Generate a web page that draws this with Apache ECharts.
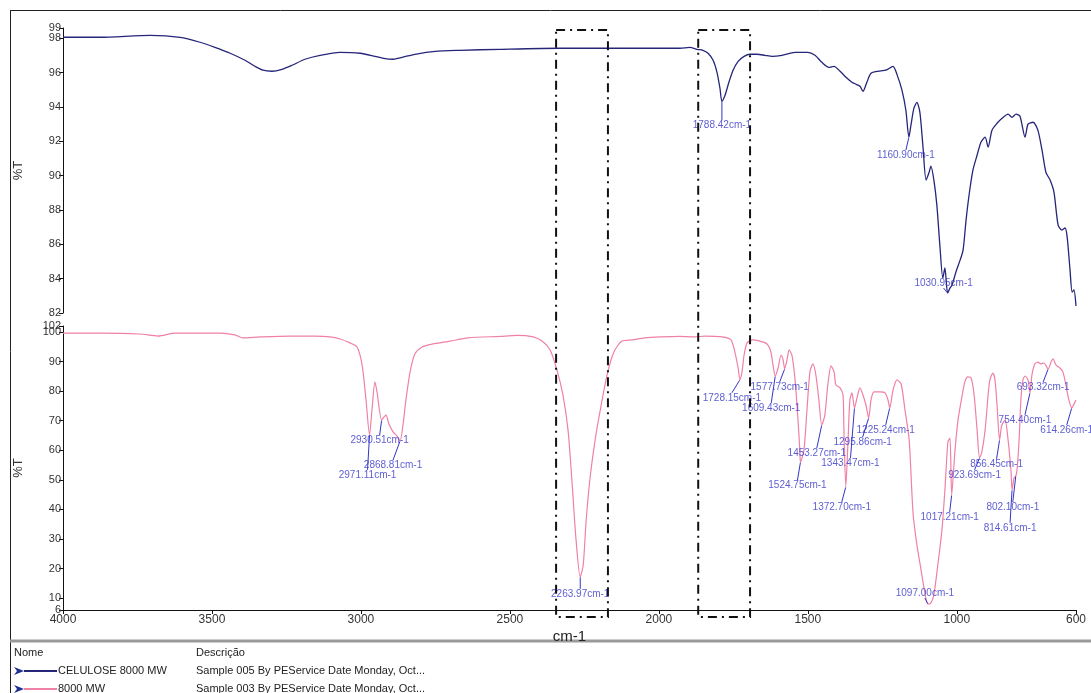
<!DOCTYPE html>
<html>
<head>
<meta charset="utf-8">
<title>FTIR – Celulose 8000 MW</title>
<script src="https://cdn.jsdelivr.net/npm/echarts@6/dist/echarts.min.js"></script>
<style>
  html, body { margin: 0; padding: 0; background: #ffffff; }
  #chart { width: 1091px; height: 693px; }
</style>
</head>
<body>
<div id="chart"></div>
<script>
// Wavenumber axis (cm-1), drawn high to low
const wavenumberTicks = [4000, 3500, 3000, 2500, 2000, 1500, 1000, 600];
const celluloseTicks = [82, 84, 86, 88, 90, 92, 94, 96, 98];
const celluloseTopTick = [98.6];
const pegTicks = [6, 10, 20, 30, 40, 50, 60, 70, 80, 90, 100];
const pegTopTick = [102];

// CELULOSE 8000 MW spectrum: [wavenumber, %T]
const celluloseSpectrum = [
  [4000, 98.06], [3876, 98.06], [3708, 98.17], [3607, 98.06], [3540, 97.77], [3490, 97.47],
  [3439, 97.13], [3389, 96.72], [3356, 96.37], [3329, 96.14], [3299, 96.08], [3265, 96.19],
  [3231, 96.43], [3188, 96.78], [3137, 97.01], [3070, 97.18], [3003, 97.13], [2953, 96.95],
  [2919, 96.81], [2892, 96.78], [2862, 96.89], [2819, 97.07], [2751, 97.24], [2667, 97.30],
  [2533, 97.36], [2332, 97.42], [2130, 97.42], [1929, 97.42], [1896, 97.47], [1872, 97.36],
  [1852, 97.30], [1835, 97.13], [1818, 96.72], [1805, 96.02], [1795, 95.09], [1788.42, 94.33],
  [1778, 94.68], [1765, 95.44], [1751, 96.14], [1734, 96.66], [1714, 96.95], [1694, 97.07],
  [1671, 97.07], [1644, 97.01], [1620, 96.95], [1587, 97.01], [1543, 97.18], [1500, 97.18],
  [1476, 97.01], [1453, 96.60], [1429, 96.31], [1412, 96.37], [1392, 96.08], [1372, 95.73],
  [1352, 95.44], [1338, 95.32], [1325, 95.21], [1315, 94.91], [1302, 95.44], [1288, 95.96],
  [1265, 96.08], [1238, 96.14], [1214, 96.37], [1201, 95.90], [1184, 94.97], [1171, 93.81],
  [1160.90, 92.24], [1154, 92.94], [1144, 93.93], [1134, 94.27], [1124, 93.69], [1114, 91.77],
  [1103, 89.74], [1093, 90.20], [1087, 90.55], [1077, 89.74], [1067, 88.28], [1057, 85.96],
  [1047, 84.04], [1040, 84.62], [1030.95, 83.16], [1023, 83.45], [1016, 83.63], [1003, 84.39],
  [989, 85.08], [979, 85.66], [969, 87.41], [959, 88.86], [946, 90.32], [932, 91.19],
  [919, 91.95], [905, 92.24], [895, 91.66], [882, 92.65], [865, 93.05], [848, 93.34],
  [828, 93.58], [815, 93.40], [801, 93.58], [788, 93.46], [771, 92.24], [761, 93.00],
  [744, 93.11], [728, 92.65], [714, 91.48], [701, 90.20], [687, 89.74], [674, 89.04],
  [660, 87.12], [647, 86.83], [637, 86.95], [630, 86.48], [620, 84.50], [613, 83.22],
  [607, 83.34], [600, 82.41]
];

// 8000 MW spectrum: [wavenumber, %T]
const pegSpectrum = [
  [4000, 99.6], [3876, 99.6], [3742, 99.3], [3681, 98.6], [3624, 99.6], [3473, 99.6],
  [3423, 99.0], [3396, 98.0], [3339, 98.3], [3238, 98.6], [3154, 98.6], [3104, 98.3],
  [3070, 97.6], [3037, 96.3], [3013, 94.9], [2996, 88.8], [2983, 77.0], [2971.11, 65.2],
  [2963, 73.6], [2953, 83.1], [2946, 79.7], [2930.51, 70.2], [2923, 71.2], [2916, 71.9],
  [2906, 68.9], [2892, 66.2], [2879, 64.8], [2868.81, 63.1], [2859, 68.5], [2849, 77.0],
  [2835, 86.5], [2819, 92.5], [2795, 94.9], [2761, 95.9], [2701, 96.9], [2641, 98.0],
  [2533, 98.5], [2476, 98.8], [2422, 98.3], [2392, 96.9], [2365, 93.9], [2342, 87.1],
  [2322, 78.7], [2305, 66.9], [2292, 49.9], [2278, 29.7], [2263.97, 17.2], [2254, 21.2],
  [2244, 36.4], [2231, 50.6], [2214, 63.5], [2198, 72.9], [2174, 85.4], [2151, 93.2],
  [2124, 96.9], [2090, 97.3], [2047, 98.0], [1996, 98.3], [1929, 98.5], [1879, 98.3],
  [1845, 98.6], [1788, 98.3], [1758, 97.3], [1745, 93.2], [1734, 87.8], [1728.15, 83.8],
  [1721, 86.5], [1714, 92.2], [1704, 96.3], [1687, 97.3], [1661, 96.9], [1637, 95.9],
  [1624, 93.2], [1617, 88.8], [1609.43, 85.1], [1600, 87.8], [1590, 92.2], [1583, 90.5],
  [1577.73, 87.5], [1570, 90.5], [1563, 93.9], [1553, 91.9], [1543, 83.8], [1533, 70.2],
  [1527, 60.1], [1524.75, 56.0], [1513, 60.1], [1503, 73.6], [1493, 86.5], [1483, 89.2],
  [1473, 85.4], [1463, 77.0], [1453.27, 68.5], [1443, 71.9], [1433, 82.1], [1422, 88.5],
  [1412, 86.5], [1406, 82.1], [1392, 81.1], [1382, 78.7], [1379, 66.9], [1372.70, 47.6],
  [1365, 63.5], [1359, 77.0], [1352, 79.4], [1343.47, 74.3], [1335, 77.7], [1325, 81.1],
  [1315, 78.7], [1305, 75.3], [1295.86, 70.9], [1288, 77.0], [1278, 79.7], [1258, 79.7],
  [1241, 79.4], [1231, 77.0], [1225.24, 74.3], [1214, 80.4], [1201, 83.8], [1187, 82.4],
  [1174, 73.6], [1160, 63.5], [1147, 38.8], [1134, 28.0], [1124, 21.9], [1107, 11.7],
  [1097.00, 8.0], [1087, 8.4], [1077, 11.1], [1063, 21.9], [1050, 33.0], [1040, 46.6],
  [1030, 62.8], [1023, 64.1], [1017.21, 44.9], [1006, 60.1], [996, 70.2], [983, 78.0],
  [973, 83.1], [963, 84.8], [952, 84.4], [942, 78.7], [932, 66.9], [923.69, 57.4],
  [916, 59.4], [905, 66.9], [895, 78.7], [889, 83.8], [879, 86.1], [872, 83.8],
  [865, 75.3], [856.45, 63.5], [849, 68.5], [838, 70.2], [828, 63.5], [818, 52.7],
  [814.61, 46.6], [808, 50.6], [802.10, 51.3], [798, 53.3], [791, 63.5], [785, 77.0],
  [778, 83.8], [771, 85.1], [761, 83.8], [754.40, 79.4], [748, 85.4], [738, 89.2],
  [728, 89.8], [718, 89.2], [708, 89.5], [693.32, 87.5], [684, 89.8], [677, 90.9],
  [667, 88.8], [654, 87.8], [644, 86.5], [634, 82.1], [624, 77.0], [614.26, 74.3],
  [607, 75.6], [600, 77.0]
];

// Annotated bands
const cellulosePeaks = [[1788.42, 94.33], [1160.90, 92.24], [1030.95, 83.16]];
const pegPeaks = [
  [2971.11, 65.2], [2930.51, 70.2], [2868.81, 63.1], [2263.97, 17.2], [1728.15, 83.8],
  [1609.43, 85.1], [1577.73, 87.5], [1524.75, 56.0], [1453.27, 68.5], [1372.70, 47.6],
  [1343.47, 74.3], [1295.86, 70.9], [1225.24, 74.3], [1097.00, 8.0], [1017.21, 44.9],
  [923.69, 57.4], [856.45, 63.5], [814.61, 46.6], [802.10, 51.3], [754.40, 79.4],
  [693.32, 87.5], [614.26, 74.3]
];

// Highlighted wavenumber windows (cm-1)
const highlightBands = [[2345, 2171], [1868, 1694]];

// Legend table rows
const legendRows = [
  { name: 'CELULOSE 8000 MW', desc: 'Sample 005 By PEService Date Monday, Oct...' },
  { name: '8000 MW', desc: 'Sample 003 By PEService Date Monday, Oct...' }
];

// Label placement for the peak annotations (pixel offsets from each band)
const celluloseLabelShift = [[0, 24], [-3, 18], [-4, -10]];
const pegLabelShift = [
  [-2, 40], [-2, 20], [-7, 24], [0, 17], [-8, 18],
  [-4, 32], [-5, 18], [-3, 23], [-5, 28], [-4, 20],
  [-4, 55], [-6, 24], [-4, 22], [-3, -11], [-2, 22],
  [-5, 17], [-3, 24], [-2, 38], [-3, 31], [-5, 27],
  [-5, 18], [-5, 22]
];

const navy = '#25257a';
const pink = '#ef80a6';
const peakBlue = '#3434c8';
const axisFont = 'Liberation Sans, Arial, sans-serif';
const narrowFont = '"Liberation Sans Narrow", "Arial Narrow", Liberation Sans, sans-serif';

const chart = echarts.init(document.getElementById('chart'), null, { renderer: 'canvas' });

// Main %T axis of a panel
function yAxisBase(min, max, ticks, gridIndex) {
  return {
    type: 'value', gridIndex, min, max, position: 'left',
    name: '%T', nameLocation: 'middle', nameGap: 38, nameRotate: 90,
    nameTextStyle: { fontFamily: axisFont, fontSize: 13, color: '#333' },
    axisLine: { show: true, lineStyle: { color: '#111', width: 1 } },
    axisTick: { show: true, inside: false, length: 4, customValues: ticks, lineStyle: { color: '#111' } },
    axisLabel: {
      customValues: ticks, margin: 2, fontFamily: axisFont, fontSize: 11, color: '#333',
      showMinLabel: true, showMaxLabel: true, hideOverlap: false,
      formatter: v => String(Math.round(v))
    },
    splitLine: { show: false }
  };
}

// Companion axis that only labels the top end of a panel
function yAxisTop(min, max, ticks, gridIndex) {
  return {
    type: 'value', gridIndex, min, max, position: 'left', offset: 0,
    axisLine: { show: false, onZero: false },
    axisTick: { show: true, inside: false, length: 4, customValues: ticks, lineStyle: { color: '#111' } },
    axisLabel: {
      customValues: ticks, margin: 2, fontFamily: axisFont, fontSize: 11, color: '#333',
      showMinLabel: true, showMaxLabel: true,
      formatter: v => String(Math.round(v))
    },
    splitLine: { show: false }
  };
}

function peakSeries(data, shifts, xi, yi) {
  return {
    type: 'scatter', xAxisIndex: xi, yAxisIndex: yi, data,
    symbolSize: 1, itemStyle: { color: 'rgba(0,0,0,0)' }, silent: true, z: 5,
    label: {
      show: true, position: 'inside', fontFamily: axisFont, fontSize: 10, color: peakBlue,
      formatter: p => p.value[0].toFixed(2) + 'cm-1'
    },
    labelLine: { show: true, lineStyle: { color: peakBlue, width: 1 } },
    labelLayout: params => ({ dx: shifts[params.dataIndex][0], dy: shifts[params.dataIndex][1] })
  };
}

const option = {
  backgroundColor: '#ffffff',
  animation: false,
  grid: [
    { left: 63, right: 15, top: 28, height: 285, outerBoundsMode: 'none' },
    { left: 63, right: 15, top: 326, height: 284, outerBoundsMode: 'none' }
  ],
  xAxis: [
    { type: 'value', gridIndex: 0, min: 600, max: 4000, inverse: true, show: false },
    {
      type: 'value', gridIndex: 1, min: 600, max: 4000, inverse: true,
      name: 'cm-1', nameLocation: 'middle', nameGap: 19,
      nameTextStyle: { fontFamily: narrowFont, fontSize: 15, color: '#222' },
      axisLine: { show: true, lineStyle: { color: '#111', width: 1 } },
      axisTick: { show: true, length: 4, customValues: wavenumberTicks, lineStyle: { color: '#111' } },
      axisLabel: {
        customValues: wavenumberTicks, margin: 4, fontFamily: narrowFont, fontSize: 12, color: '#333',
        showMinLabel: true, showMaxLabel: true, hideOverlap: false,
        formatter: v => String(v)
      },
      splitLine: { show: false }
    }
  ],
  yAxis: [
    yAxisBase(82, 98.6, celluloseTicks, 0),
    yAxisBase(6, 102, pegTicks, 1),
    yAxisTop(82, 98.6, celluloseTopTick, 0),
    yAxisTop(6, 102, pegTopTick, 1)
  ],
  series: [
    {
      name: 'CELULOSE 8000 MW', type: 'line', xAxisIndex: 0, yAxisIndex: 0,
      data: celluloseSpectrum, showSymbol: false, smooth: 0.25,
      lineStyle: { color: navy, width: 1.3 }, silent: true
    },
    {
      name: '8000 MW', type: 'line', xAxisIndex: 1, yAxisIndex: 1,
      data: pegSpectrum, showSymbol: false, smooth: 0.25,
      lineStyle: { color: pink, width: 1.2 }, silent: true
    },
    peakSeries(cellulosePeaks, celluloseLabelShift, 0, 0),
    peakSeries(pegPeaks, pegLabelShift, 1, 1)
  ]
};

chart.setOption(option);

// Frame, highlighted bands and the sample table below the plot
const graphics = [];
graphics.push({ type: 'line', shape: { x1: 10.5, y1: 10, x2: 10.5, y2: 693 }, style: { stroke: '#222', lineWidth: 1 }, silent: true });
graphics.push({ type: 'line', shape: { x1: 10, y1: 10.5, x2: 1091, y2: 10.5 }, style: { stroke: '#222', lineWidth: 1 }, silent: true });
graphics.push({ type: 'line', shape: { x1: 10, y1: 641, x2: 1091, y2: 641 }, style: { stroke: '#9a9a9a', lineWidth: 3 }, silent: true });

highlightBands.forEach(band => {
  const topLeft = chart.convertToPixel({ xAxisIndex: 0, yAxisIndex: 0 }, [band[0], 98.6]);
  const bottomRight = chart.convertToPixel({ xAxisIndex: 1, yAxisIndex: 1 }, [band[1], 6]);
  graphics.push({
    type: 'rect', z: 10, silent: true,
    shape: { x: topLeft[0], y: topLeft[1] + 2, width: bottomRight[0] - topLeft[0], height: bottomRight[1] + 7 - (topLeft[1] + 2) },
    style: { fill: 'none', stroke: '#111', lineWidth: 2, lineDash: [9, 5, 2, 5] }
  });
});

const tableFont = '11px ' + narrowFont;
graphics.push({ type: 'text', style: { x: 14, y: 653, text: 'Nome', font: tableFont, fill: '#222', verticalAlign: 'middle' }, silent: true });
graphics.push({ type: 'text', style: { x: 196, y: 653, text: 'Descrição', font: tableFont, fill: '#222', verticalAlign: 'middle' }, silent: true });
const rowColors = [navy, pink];
legendRows.forEach((row, i) => {
  const y = 671 + i * 18;
  graphics.push({ type: 'polygon', shape: { points: [[14, y - 4], [24, y], [14, y + 4], [17, y]] }, style: { fill: '#1f2f8f' }, silent: true });
  graphics.push({ type: 'line', shape: { x1: 24, y1: y, x2: 57, y2: y }, style: { stroke: rowColors[i], lineWidth: 2 }, silent: true });
  graphics.push({ type: 'text', style: { x: 58, y: y, text: row.name, font: tableFont, fill: '#222', verticalAlign: 'middle' }, silent: true });
  graphics.push({ type: 'text', style: { x: 196, y: y, text: row.desc, font: tableFont, fill: '#222', verticalAlign: 'middle' }, silent: true });
});

chart.setOption({ graphic: graphics });
</script>
</body>
</html>
